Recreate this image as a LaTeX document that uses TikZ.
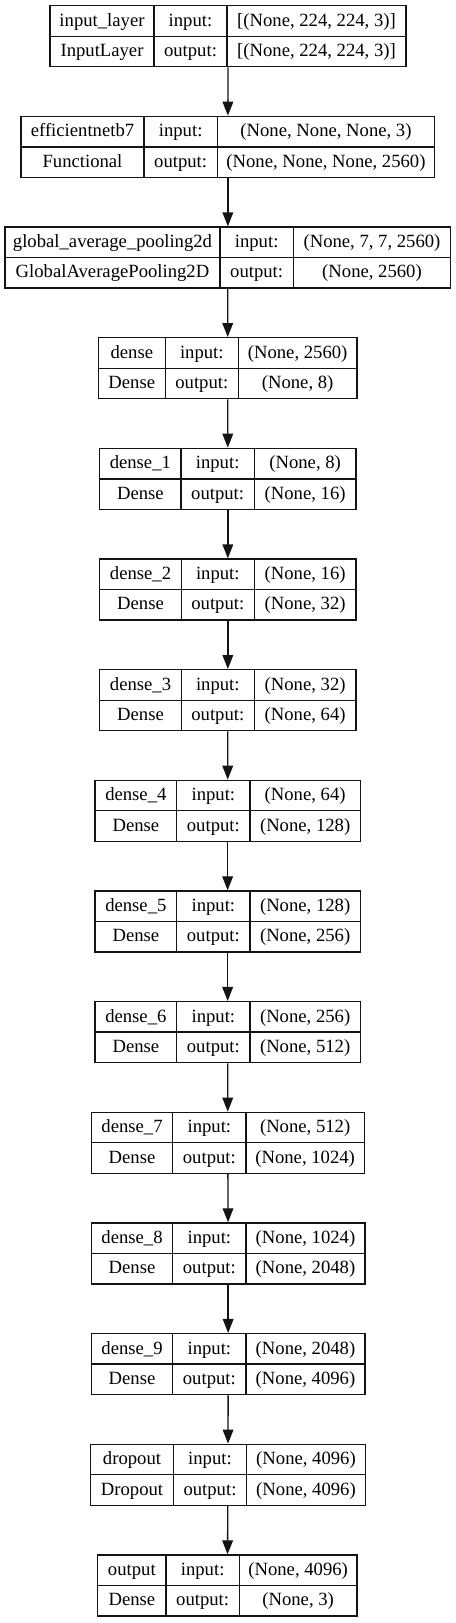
\documentclass[tikz,border=0pt]{standalone}
\usepackage{fontspec}
\setmainfont{Liberation Serif}
\usepackage{xcolor}
\definecolor{labelcolor}{RGB}{0,0,0}
\definecolor{framecolor}{RGB}{20,20,20}
\usetikzlibrary{arrows.meta}

\begin{document}
\begin{tikzpicture}[x=0.75pt, y=-0.75pt, line width=1pt,
  every node/.style={color=labelcolor, font=\fontsize{14}{16}\selectfont, inner sep=0pt, anchor=base},
  layer/.style={draw=framecolor, anchor=center, minimum height=45.75pt},
  flow/.style={-{Triangle[length=10.5pt,width=8pt]}, color=framecolor}]
  \useasboundingbox (0,0) rectangle (456,1623);
  % one record per layer: column edges, then the four texts
  \foreach \xa/\xb/\xc/\xd/\layername/\layerkind/\inshape/\outshape [count=\i from 0] in {
    50/154/227/406/input\_layer/InputLayer/{[(None, 224, 224, 3)]}/{[(None, 224, 224, 3)]},
    21/144/217.3/434.7/efficientnetb7/Functional/{(None, None, None, 3)}/{(None, None, None, 2560)},
    5/220/293.3/450.7/global\_average\_pooling2d/GlobalAveragePooling2D/{(None, 7, 7, 2560)}/{(None, 2560)},
    98.3/165.3/238.3/357/dense/Dense/{(None, 2560)}/{(None, 8)},
    99.7/181/254.3/356/dense\_1/Dense/{(None, 8)}/{(None, 16)},
    99.7/181.3/254.3/356/dense\_2/Dense/{(None, 16)}/{(None, 32)},
    99.7/181.3/254.3/356/dense\_3/Dense/{(None, 32)}/{(None, 64)},
    95/176.7/250/360.3/dense\_4/Dense/{(None, 64)}/{(None, 128)},
    95/176.7/250/360.3/dense\_5/Dense/{(None, 128)}/{(None, 256)},
    95/176.7/250/360.3/dense\_6/Dense/{(None, 256)}/{(None, 512)},
    91.3/172.7/246/364.3/dense\_7/Dense/{(None, 512)}/{(None, 1024)},
    91.3/172.7/246/365/dense\_8/Dense/{(None, 1024)}/{(None, 2048)},
    91.3/172.7/246/365/dense\_9/Dense/{(None, 2048)}/{(None, 4096)},
    90.7/173.3/246.7/365.3/dropout/Dropout/{(None, 4096)}/{(None, 4096)},
    97.7/166/239.3/357/output/Dense/{(None, 4096)}/{(None, 3)}}
  {
    \pgfmathsetmacro\ytop{5.7+110.66*\i}
    \node[layer, minimum width={(\xd-\xa)*0.75pt}] (L\i) at ({(\xa+\xd)/2}, \ytop+30.5) {};
    \draw[framecolor] (L\i.west) -- (L\i.east);
    \draw[framecolor] (\xb,\ytop) -- (\xb,\ytop+61);
    \draw[framecolor] (\xc,\ytop) -- (\xc,\ytop+61);
    \node (name\i) at ({(\xa+\xb)/2}, \ytop+20.45) {\layername};
    \node (kind\i) at ({(\xa+\xb)/2}, \ytop+50.95) {\layerkind};
    \node (kin\i) at ({(\xb+\xc)/2}, \ytop+20.45) {input:};
    \node (kout\i) at ({(\xb+\xc)/2}, \ytop+50.95) {output:};
    \node (sin\i) at ({(\xc+\xd)/2}, \ytop+20.45) {\inshape};
    \node (sout\i) at ({(\xc+\xd)/2}, \ytop+50.95) {\outshape};
  }
  \foreach \i [count=\j from 1] in {0,...,13}
    \draw[flow] (L\i) -- (L\j);
\end{tikzpicture}
\end{document}
